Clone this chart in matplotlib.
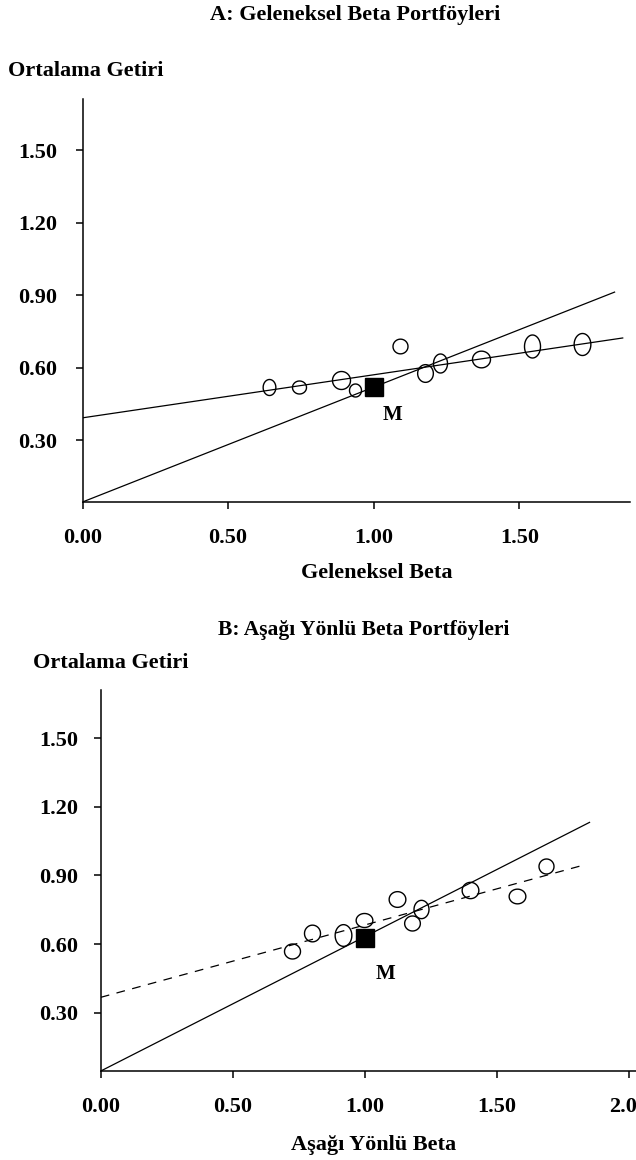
import numpy as np
import matplotlib
matplotlib.use("Agg")
import matplotlib.pyplot as plt
import matplotlib.transforms as mtransforms
from matplotlib.path import Path

plt.rcParams["font.family"] = ["Liberation Serif", "DejaVu Serif"]
plt.rcParams["font.weight"] = "bold"

# === Panel A: traditional beta portfolios ===
beta_a = [0.64, 0.745, 0.887, 0.936, 1.089, 1.177, 1.229, 1.368, 1.544, 1.715]
ret_a = [0.52, 0.52, 0.55, 0.51, 0.69, 0.58, 0.62, 0.635, 0.69, 0.70]
market_a = (1.0, 0.52)
sml_a = (0.045, 0.475, 1.827)      # intercept, slope, last beta
fit_a = (0.393, 0.178, 1.855)

# === Panel B: downside beta portfolios ===
beta_b = [0.723, 0.798, 0.916, 0.997, 1.121, 1.213, 1.180, 1.398, 1.575, 1.685]
ret_b = [0.57, 0.65, 0.64, 0.705, 0.795, 0.755, 0.69, 0.835, 0.81, 0.94]
market_b = (1.0, 0.625)
sml_b = (0.045, 0.587, 1.851)
fit_b = (0.367, 0.316, 1.828)

yticks = [0.30, 0.60, 0.90, 1.20, 1.50]
xticks_a = [0.0, 0.5, 1.0, 1.5]
xticks_b = [0.0, 0.5, 1.0, 1.5, 2.0]

# marker widths / heights in pixels (circles drawn a bit uneven in the original)
size_a = [(12.7, 16), (14, 13), (18, 18), (12, 13), (15, 14.7), (15.7, 17.7),
          (14, 19), (18, 16.7), (16, 23), (16.7, 22)]
size_b = [(16, 15), (16, 16.7), (16.7, 21.7), (16.7, 14), (16.7, 15.7), (15, 18.3),
          (15.7, 15), (16.7, 16.3), (16.7, 14.7), (15, 15)]

W, H = 636, 1160
fig = plt.figure(figsize=(W / 100, H / 100), dpi=100)


def ellipse_marker(w, h):
    t = np.linspace(0, 2 * np.pi, 60)
    verts = np.column_stack([w * np.cos(t), h * np.sin(t)])
    return Path(verts, closed=True)


def draw_panel(ax, xs, ys, sizes, market, sml, fit, xticks, xmax, dashed_fit, m_off):
    for x, y, (w, h) in zip(xs, ys, sizes):
        ax.plot([x], [y], marker=ellipse_marker(w, h), markersize=max(w, h) * 0.72,
                markerfacecolor="none", markeredgecolor="black", markeredgewidth=1.0,
                linestyle="none", zorder=3)
    b0, b1, bend = sml
    xx = np.array([0, bend])
    ax.plot(xx, b0 + b1 * xx, color="black", lw=0.9, zorder=2)
    f0, f1, fend = fit
    xx = np.array([0, fend])
    if dashed_fit:
        ax.plot(xx, f0 + f1 * xx, color="black", lw=0.9, dashes=(7, 6), zorder=2)
    else:
        ax.plot(xx, f0 + f1 * xx, color="black", lw=0.9, zorder=2)
    ax.plot([market[0]], [market[1]], marker="s", markersize=13, color="black", zorder=4)
    ax.annotate("M", market, xytext=m_off, textcoords="offset pixels",
                fontsize=15, fontweight="bold", ha="center", va="center")

    ax.set_xlim(0, xmax)
    ax.set_ylim(0.045, 1.71)
    ax.set_yticks(yticks)
    ax.set_yticklabels([f"{v:.2f}" for v in yticks])
    ax.set_xticks(xticks)
    ax.set_xticklabels([f"{v:.2f}" for v in xticks])
    for s in ["top", "right"]:
        ax.spines[s].set_visible(False)
    for s in ["left", "bottom"]:
        ax.spines[s].set_linewidth(1.1)
    ax.tick_params(direction="out", length=5, width=1.1, labelsize=16)
    ax.patch.set_alpha(0)
    # the "0.00" label sits a little left of the axis corner in the original
    first = ax.get_xticklabels()[0]
    first.set_transform(first.get_transform() + mtransforms.ScaledTranslation(-8 / 100, 0, fig.dpi_scale_trans))


# --- Panel A ---
ax1 = fig.add_axes([82.5 / W, 1 - 502 / H, (630 - 82.5) / W, (502 - 99.3) / H])
draw_panel(ax1, beta_a, ret_a, size_a, market_a, sml_a, fit_a, xticks_a, 1.88, False, (19, -28))
ax1.tick_params(axis="y", pad=13)
ax1.tick_params(axis="x", pad=14)

fig.text(355 / W, 1 - 15 / H, "A: Geleneksel Beta Portföyleri", ha="center", va="center", fontsize=16)
fig.text(8 / W, 1 - 71 / H, "Ortalama Getiri", ha="left", va="center", fontsize=16)
fig.text(377 / W, 1 - 573 / H, "Geleneksel Beta", ha="center", va="center", fontsize=16)

# --- Panel B ---
ax2 = fig.add_axes([100.8 / W, 1 - 1071 / H, (W - 100.8) / W, (1071 - 690) / H])
draw_panel(ax2, beta_b, ret_b, size_b, market_b, sml_b, fit_b, xticks_b, 2.027, True, (21, -36))
ax2.tick_params(axis="y", pad=11)
ax2.tick_params(axis="x", pad=14)

fig.text(364 / W, 1 - 630 / H, "B: Aşağı Yönlü Beta Portföyleri", ha="center", va="center", fontsize=15.5)
fig.text(33 / W, 1 - 663 / H, "Ortalama Getiri", ha="left", va="center", fontsize=16)
fig.text(374 / W, 1 - 1145 / H, "Aşağı Yönlü Beta", ha="center", va="center", fontsize=16)

fig.savefig("out.png", dpi=100)
